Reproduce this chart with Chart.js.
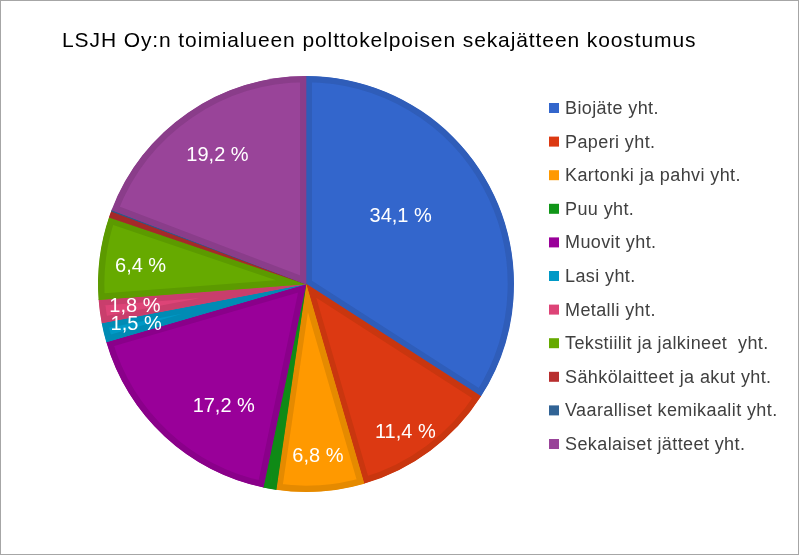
<!DOCTYPE html>
<html>
<head>
<meta charset="utf-8">
<script src="https://cdn.jsdelivr.net/npm/chart.js@4/dist/chart.umd.min.js"></script>
<style>
  html, body { margin: 0; padding: 0; background: #fff; }
  canvas { display: block; }
</style>
</head>
<body>
<canvas id="chart" width="799" height="555"></canvas>
<script>
const title = 'LSJH Oy:n toimialueen polttokelpoisen sekajätteen koostumus';

const categories = [
  'Biojäte yht.',
  'Paperi yht.',
  'Kartonki ja pahvi yht.',
  'Puu yht.',
  'Muovit yht.',
  'Lasi yht.',
  'Metalli yht.',
  'Tekstiilit ja jalkineet  yht.',
  'Sähkölaitteet ja akut yht.',
  'Vaaralliset kemikaalit yht.',
  'Sekalaiset jätteet yht.',
];

// percent of total
const shares = [34.1, 11.4, 6.8, 1.0, 17.2, 1.5, 1.8, 6.4, 0.5, 0.1, 19.2];

const fillColors = [
  '#3366cc', '#dc3912', '#ff9900', '#109618', '#990099', '#0099c6',
  '#dd4477', '#66aa00', '#b82e2e', '#316395', '#994499',
];
const edgeColors = [
  '#2f5db9', '#c9360f', '#e58a00', '#0f8a16', '#8a008a', '#008bb4',
  '#c93e6c', '#5c9a00', '#a52929', '#2c5987', '#8a3d8a',
];

// where each value label sits, as a fraction of the radius along the slice middle
const labelRadius = [0.56, 0.86, 0.83, 0, 0.71, 0.84, 0.83, 0.80, 0, 0, 0.75];
const labelAngleShift = [-7, 3, 0, 0, -9, 0, 0, -1, 0, 0, 0];

const sliceLabels = {
  id: 'sliceLabels',
  afterDatasetsDraw(chart) {
    const { ctx } = chart;
    const meta = chart.getDatasetMeta(0);
    ctx.save();
    ctx.font = '20px "Liberation Sans", Arial, sans-serif';
    ctx.fillStyle = '#ffffff';
    ctx.textAlign = 'center';
    ctx.textBaseline = 'middle';
    meta.data.forEach((arc, i) => {
      if (shares[i] < 1.2) return;
      const p = arc.getProps(['x', 'y', 'startAngle', 'endAngle', 'outerRadius']);
      const mid = (p.startAngle + p.endAngle) / 2 + labelAngleShift[i] * Math.PI / 180;
      const r = p.outerRadius * labelRadius[i];
      const text = shares[i].toFixed(1).replace('.', ',') + ' %';
      ctx.fillText(text, p.x + Math.cos(mid) * r, p.y + Math.sin(mid) * r);
    });
    ctx.restore();
  },
};

const frameAndLegend = {
  id: 'frameAndLegend',
  afterDraw(chart) {
    const { ctx } = chart;
    ctx.save();
    ctx.strokeStyle = '#a6a6a6';
    ctx.lineWidth = 1;
    ctx.strokeRect(0.5, 0.5, chart.width - 1, chart.height - 1);

    ctx.fillStyle = '#000000';
    ctx.font = '21px "Liberation Sans", Arial, sans-serif';
    ctx.letterSpacing = '0.9px';
    ctx.textBaseline = 'middle';
    ctx.textAlign = 'left';
    ctx.fillText(title, 62, 41);

    ctx.font = '18px "Liberation Sans", Arial, sans-serif';
    ctx.letterSpacing = '0.4px';
    categories.forEach((name, i) => {
      const y = 108 + i * 33.6;
      ctx.fillStyle = fillColors[i];
      ctx.fillRect(549, y - 5, 10, 10);
      ctx.fillStyle = '#404040';
      ctx.fillText(name, 565, y + 1);
    });
    ctx.restore();
  },
};

new Chart(document.getElementById('chart'), {
  type: 'pie',
  data: {
    labels: categories,
    datasets: [{
      data: shares,
      backgroundColor: fillColors,
      borderColor: edgeColors,
      borderWidth: 6,
      borderAlign: 'inner',
      hoverOffset: 0,
      offset: 0,
    }],
  },
  options: {
    responsive: false,
    animation: false,
    events: [],
    layout: { padding: { left: 98, right: 285, top: 76, bottom: 63 } },
    plugins: {
      legend: { display: false },
      title: { display: false },
      tooltip: { enabled: false },
    },
  },
  plugins: [sliceLabels, frameAndLegend],
});
</script>
</body>
</html>
